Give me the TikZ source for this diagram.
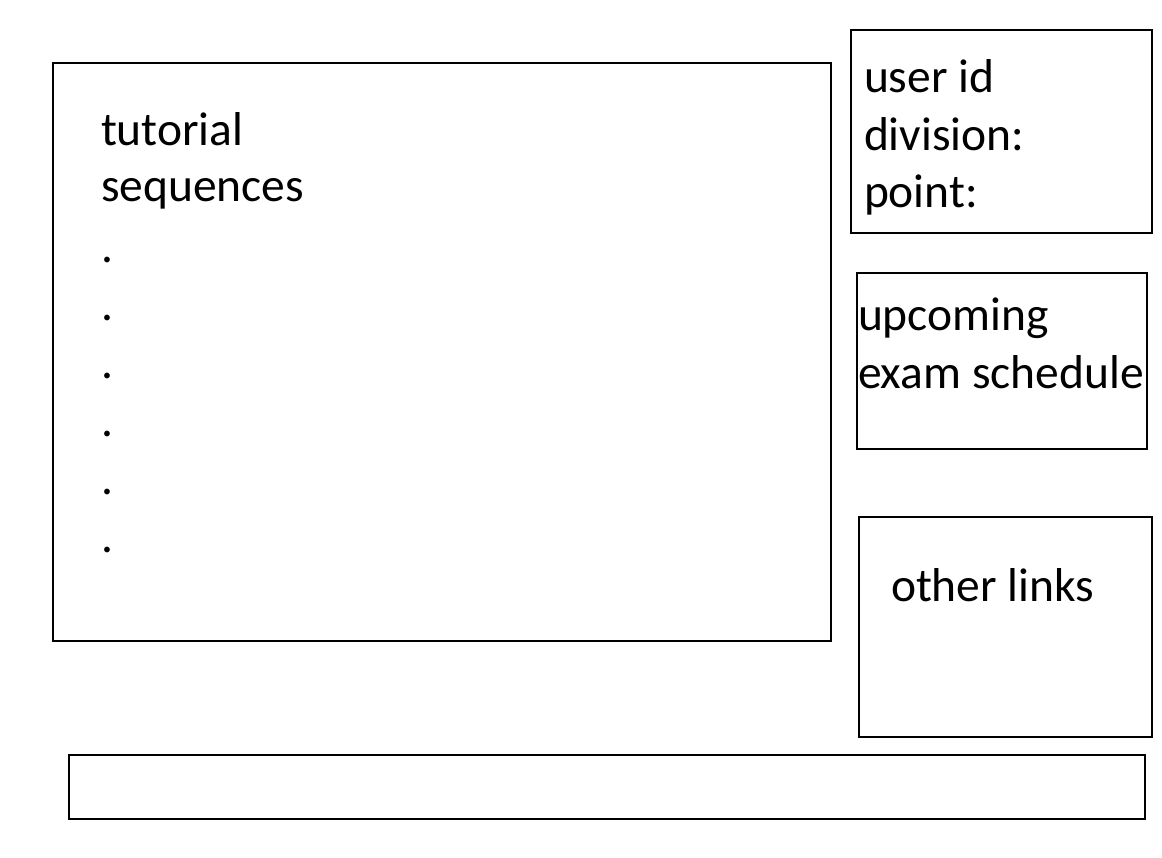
\documentclass[tikz,border=0pt]{standalone}
\usepackage{fontspec}
\setmainfont{Carlito}
\begin{document}
\begin{tikzpicture}[x=1pt,y=-1pt,
  panel/.style={draw=black,line width=2.5pt},
  lbl/.style={anchor=base west,inner sep=0pt,outer sep=0pt,font=\fontsize{47.5}{58}\selectfont}]
\useasboundingbox[fill=white] (0,0) rectangle (1162,857);
\draw[panel] (53,63) rectangle (831,641);
\draw[panel] (851,30) rectangle (1152,233);
\draw[panel] (857,273) rectangle (1147,449);
\draw[panel] (859,517) rectangle (1152,737);
\draw[panel] (69,755) rectangle (1145,819);
% main panel text
\node[lbl] (t1) at (101,145) {tutorial};
\node[lbl] (t2) at (101,201) {sequences};
\foreach \i in {0,...,5} {
  \node[lbl] (d\i) at (101,{262+58*\i}) {.};
}
% user box
\node[lbl] (u1) at (864,92) {user id};
\node[lbl] (u2) at (864,150) {division:};
\node[lbl] (u3) at (864,207) {point:};
% upcoming
\node[lbl] (e1) at (858,330) {upcoming};
\node[lbl] (e2) at (858,388) {exam schedule};
% other links
\node[lbl] (o1) at (891,601) {other links};
\end{tikzpicture}
\end{document}
